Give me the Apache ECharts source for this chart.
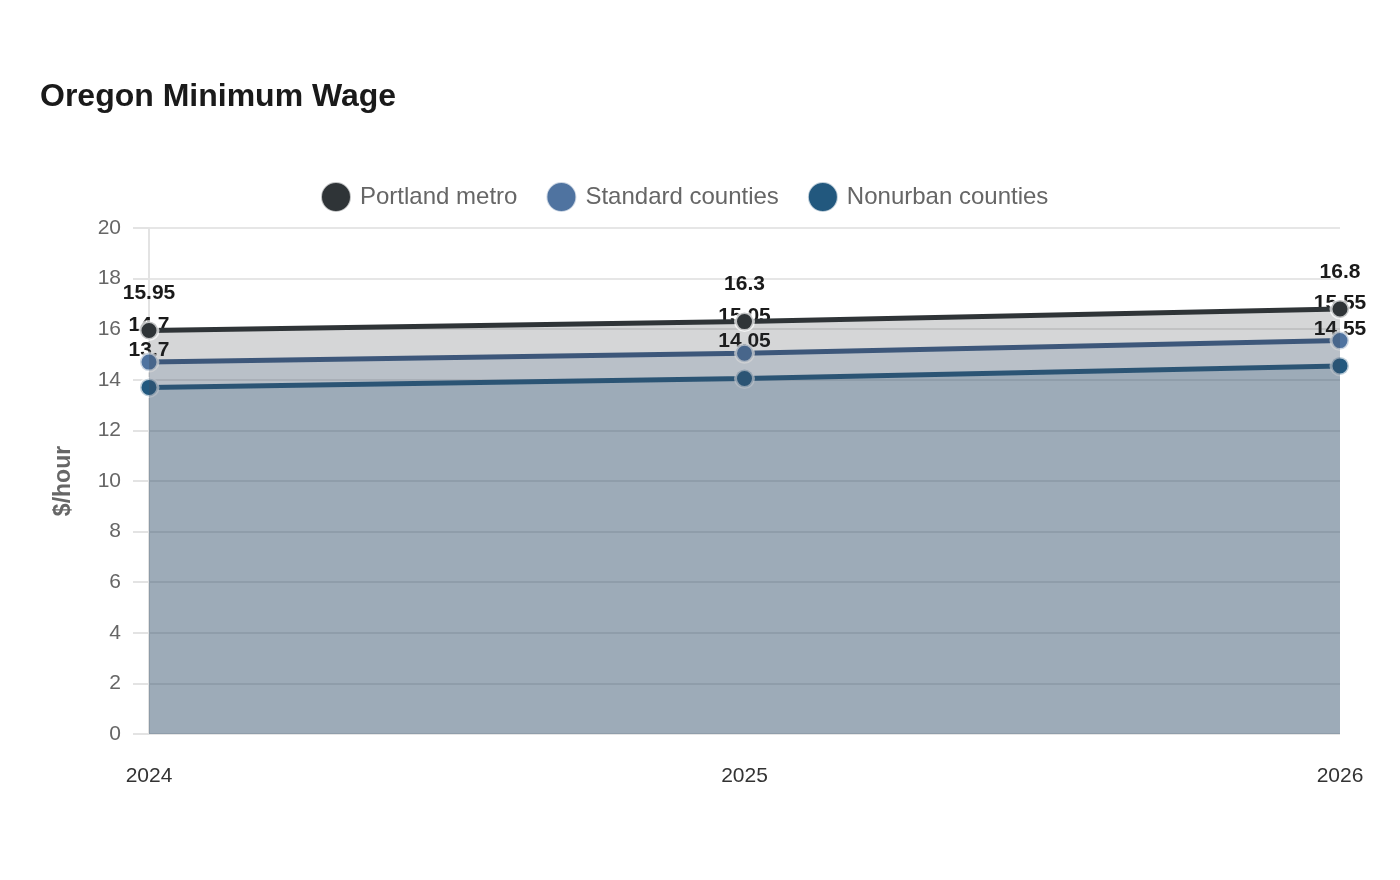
<!DOCTYPE html>
<html><head><meta charset="utf-8">
<script src="https://cdn.jsdelivr.net/npm/echarts@6/dist/echarts.min.js"></script>
<style>html,body{margin:0;padding:0;background:#fff}#c{width:1400px;height:880px}</style>
</head><body><div id="c"></div>
<script>
const years = ['2024', '2025', '2026'];
const portland = [15.95, 16.3, 16.8];
const standard = [14.7, 15.05, 15.55];
const nonurban = [13.7, 14.05, 14.55];
const seriesNames = ['Portland metro', 'Standard counties', 'Nonurban counties'];
const colors = ['#2f3437', '#4f73a0', '#22587e'];
const lineColors = ['#2f3437', '#41618b', '#22587e'];

const chart = echarts.init(document.getElementById('c'));
function mk(name, data, i) {
  return {
    name: name, type: 'line', data: data,
    symbol: 'circle', symbolSize: 18,
    itemStyle: { color: colors[i], borderColor: 'rgba(255,255,255,0.7)', borderWidth: 3 },
    lineStyle: { color: lineColors[i], width: 5 },
    areaStyle: { color: colors[i], opacity: 0.2 },
    label: { show: true, position: 'top', distance: 16, fontSize: 21, fontWeight: 'bold', color: '#1a1a1a', fontFamily: 'Liberation Sans' },
    z: 3 - i
  };
}
chart.setOption({
  animation: false,
  textStyle: { fontFamily: 'Liberation Sans' },
  title: { text: 'Oregon Minimum Wage', left: 35, top: 76, textStyle: { fontSize: 32, fontWeight: 'bold', color: '#1a1a1a', fontFamily: 'Liberation Sans' } },
  legend: { top: 176, left: 315, itemWidth: 30, itemHeight: 30, itemGap: 28, icon: 'circle',
    textStyle: { fontSize: 24, color: '#666', fontFamily: 'Liberation Sans', padding: [0, 0, 0, 4] }, data: seriesNames },
  grid: { left: 149, right: 60, top: 228, bottom: 146 },
  xAxis: { type: 'category', data: years, boundaryGap: false,
    axisLine: { show: false }, axisTick: { show: false },
    axisLabel: { fontSize: 21, color: '#333', margin: 32 } },
  yAxis: { type: 'value', min: 0, max: 20, interval: 2, name: '$/hour', nameLocation: 'middle', nameGap: 74,
    nameTextStyle: { fontSize: 23, fontWeight: 'bold', color: '#666' },
    axisLine: { show: true, lineStyle: { color: '#e3e3e3', width: 2 } },
    axisTick: { show: true, length: 16, lineStyle: { color: '#e3e3e3', width: 2 } },
    axisLabel: { fontSize: 21, color: '#666', margin: 28 },
    splitLine: { lineStyle: { color: '#e6e6e6', width: 2 } } },
  series: [mk(seriesNames[0], portland, 0), mk(seriesNames[1], standard, 1), mk(seriesNames[2], nonurban, 2)]
});
</script></body></html>
